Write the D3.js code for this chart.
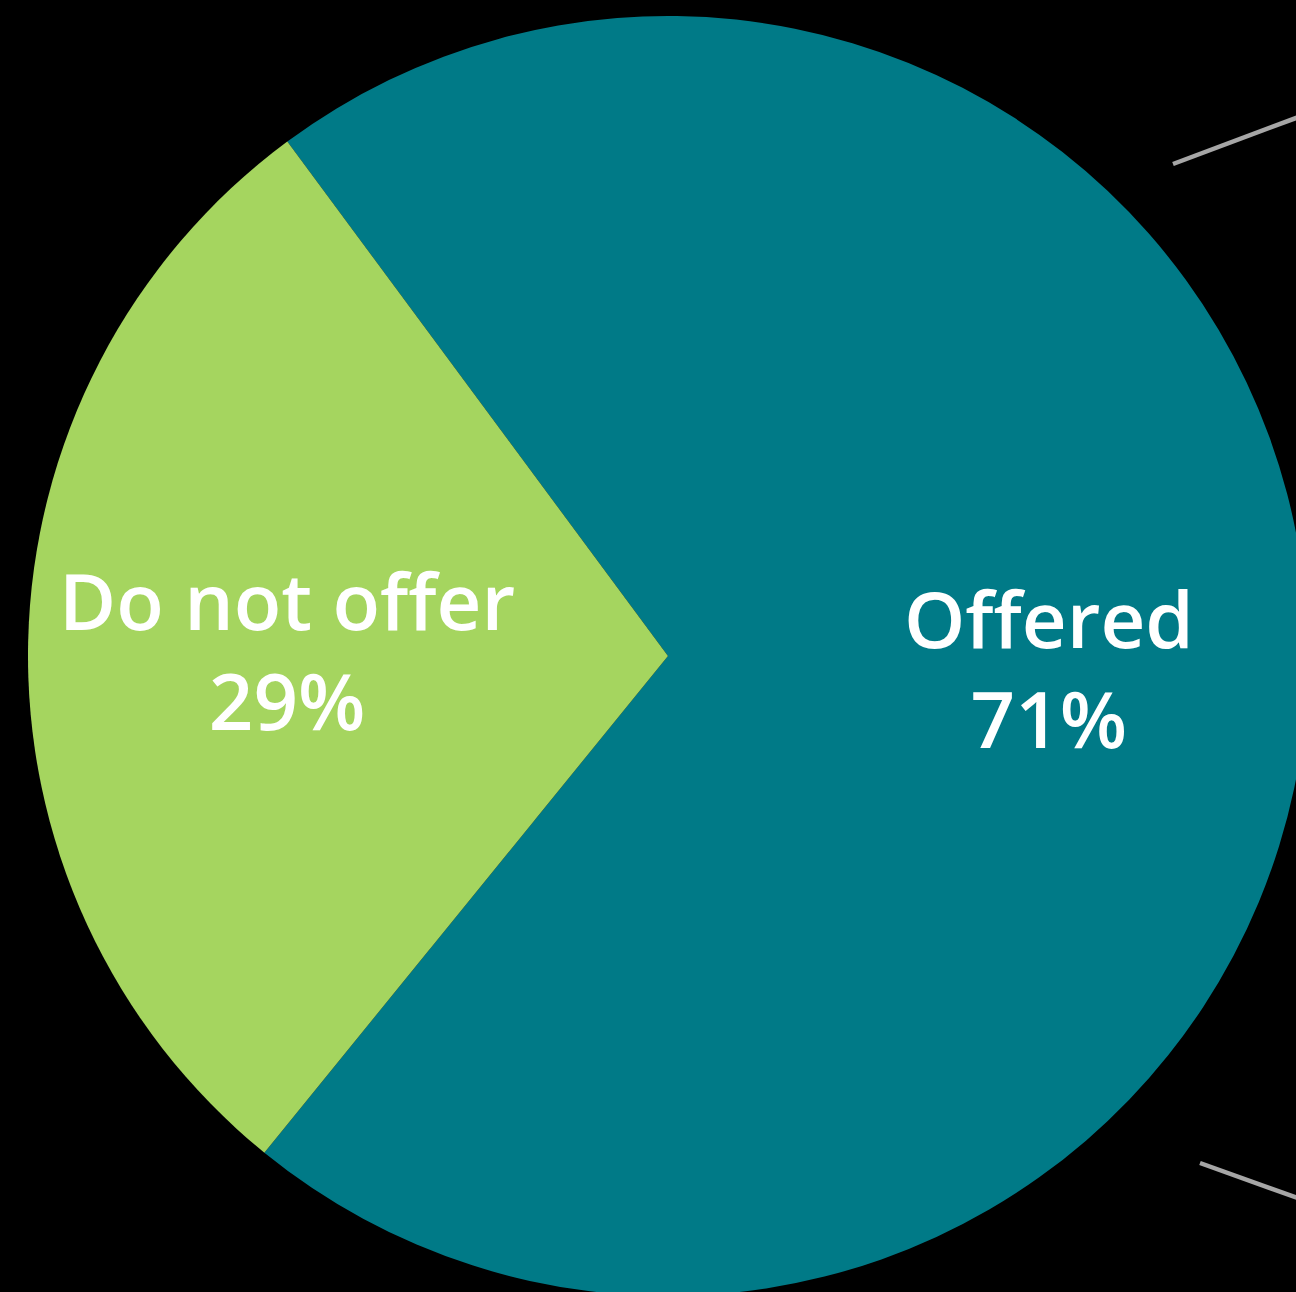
<!DOCTYPE html>
<html>
<head>
<meta charset="utf-8">
<script src="https://cdn.jsdelivr.net/npm/d3@7"></script>
<style>
  html, body { margin: 0; padding: 0; background: #000; overflow: hidden; }
  svg { display: block; }
</style>
</head>
<body>
<svg id="chart" width="1296" height="1292"></svg>
<script>
// Data
const categories = ["Offered", "Do not offer"];
const values = [71, 29];
const labels = ["71%", "29%"];
const colors = ["#007A87", "#A5D55F"];

const width = 1296, height = 1292;
const cx = 668, cy = 656, radius = 640;

const svg = d3.select("#chart");
svg.append("rect").attr("width", width).attr("height", height).attr("fill", "#000");

const startA = -36.5 * Math.PI / 180;
const pie = d3.pie().sort(null).startAngle(startA).endAngle(startA + 2 * Math.PI);
const arcs = pie(values);
const arc = d3.arc().innerRadius(0).outerRadius(radius);

const g = svg.append("g").attr("transform", `translate(${cx},${cy})`);

g.selectAll("path.slice")
  .data(arcs)
  .join("path")
  .attr("class", "slice")
  .attr("d", arc)
  .attr("fill", (d, i) => colors[i]);

// connector lines (bar-of-pie style) leaving to the right
const connectors = [
  [[505, -492], [652, -547]],
  [[532, 507], [652, 550]]
];
g.selectAll("line.conn")
  .data(connectors)
  .join("line")
  .attr("class", "conn")
  .attr("x1", d => d[0][0]).attr("y1", d => d[0][1])
  .attr("x2", d => d[1][0]).attr("y2", d => d[1][1])
  .attr("stroke", "#A6A6A6")
  .attr("stroke-width", 4.5);

// labels
const labelR = 381;
const lbl = g.selectAll("g.lbl")
  .data(arcs)
  .join("g")
  .attr("class", "lbl")
  .attr("transform", d => {
    const mid = (d.startAngle + d.endAngle) / 2;
    return `translate(${labelR * Math.sin(mid)},${-labelR * Math.cos(mid)})`;
  });

const txt = lbl.append("text")
  .attr("text-anchor", "middle")
  .attr("fill", "#fff")
  .style("font-family", "'Open Sans', 'Noto Sans', sans-serif")
  .style("font-weight", 600)
  .style("font-size", "78px");
txt.append("tspan").attr("x", 0).attr("y", -17).text((d, i) => categories[i]);
txt.append("tspan").attr("x", 0).attr("y", 83).text((d, i) => labels[i]);
</script>
</body>
</html>
